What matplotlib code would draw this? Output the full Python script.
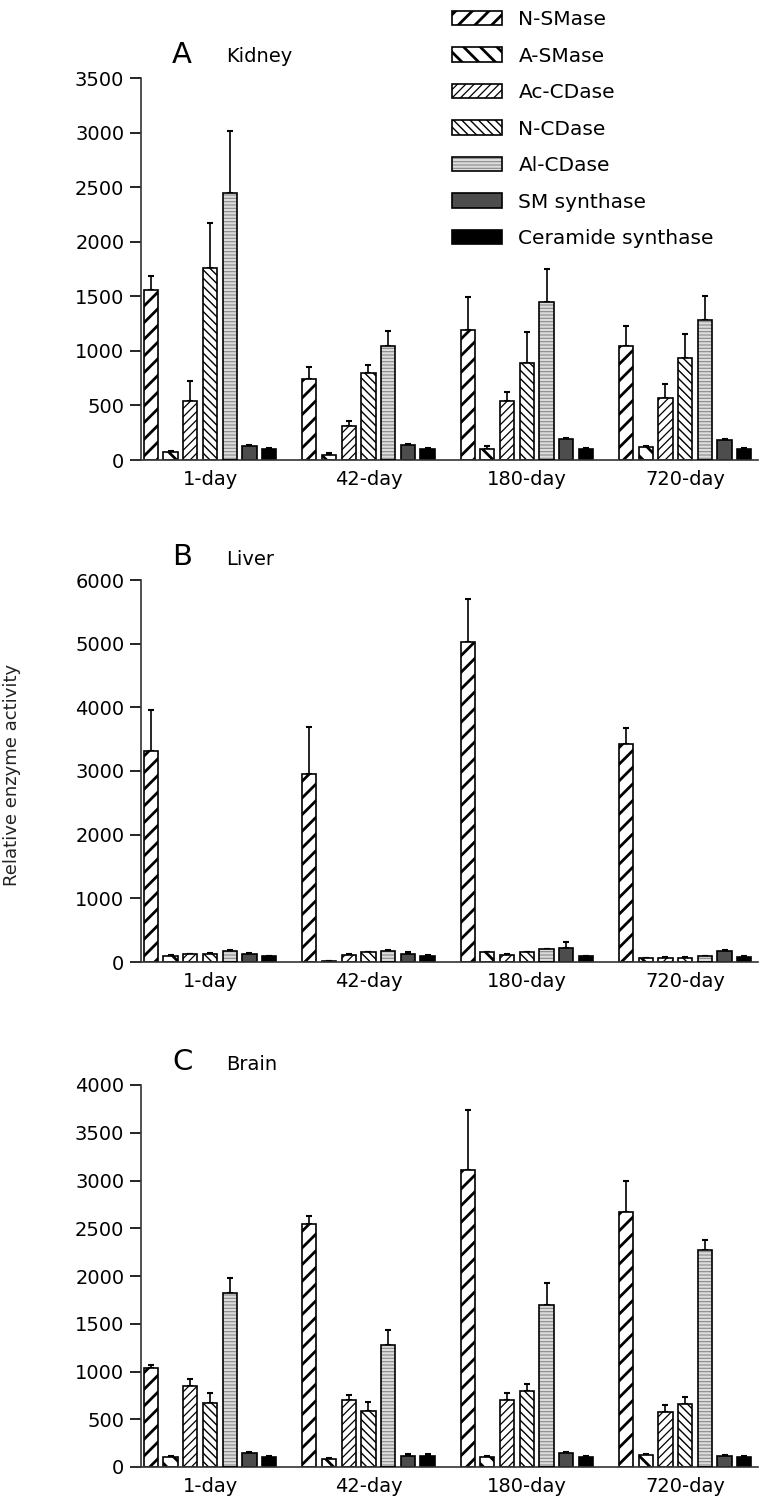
import numpy as np
import matplotlib
matplotlib.use('Agg')
import matplotlib.pyplot as plt

plt.rcParams['font.family'] = ['DejaVu Sans']
plt.rcParams['hatch.color'] = 'black'

# x categories
groups = ['1-day', '42-day', '180-day', '720-day']
enzymes = ['N-SMase', 'A-SMase', 'Ac-CDase', 'N-CDase', 'Al-CDase',
           'SM synthase', 'Ceramide synthase']

# Kidney (mean / upper error) per enzyme, order of groups
kidney_mean = [[1560, 740, 1190, 1040],
               [70, 50, 100, 120],
               [540, 310, 540, 570],
               [1760, 800, 890, 930],
               [2450, 1040, 1450, 1280],
               [130, 140, 190, 180],
               [100, 100, 100, 100]]
kidney_err = [[130, 110, 300, 190],
              [10, 10, 30, 10],
              [180, 50, 80, 130],
              [410, 70, 280, 220],
              [560, 140, 300, 220],
              [10, 10, 10, 10],
              [10, 10, 10, 10]]

# Liver
liver_mean = [[3320, 2960, 5020, 3420],
              [100, 10, 150, 60],
              [120, 110, 110, 70],
              [130, 150, 150, 70],
              [180, 180, 200, 90],
              [120, 130, 220, 170],
              [90, 100, 90, 80]]
liver_err = [[640, 730, 680, 260],
             [10, 0, 10, 10],
             [10, 10, 10, 10],
             [10, 10, 10, 10],
             [10, 10, 10, 10],
             [20, 20, 90, 20],
             [10, 10, 10, 10]]

# Brain
brain_mean = [[1040, 2540, 3110, 2670],
              [100, 80, 100, 130],
              [850, 700, 700, 580],
              [670, 590, 800, 660],
              [1820, 1280, 1700, 2270],
              [150, 110, 150, 120],
              [100, 110, 100, 100]]
brain_err = [[30, 90, 630, 330],
             [10, 10, 10, 10],
             [70, 50, 80, 70],
             [110, 90, 70, 70],
             [160, 150, 230, 110],
             [10, 30, 10, 10],
             [10, 30, 10, 10]]

panels = [('A', 'Kidney', kidney_mean, kidney_err, 3500, 500),
          ('B', 'Liver', liver_mean, liver_err, 6000, 1000),
          ('C', 'Brain', brain_mean, brain_err, 4000, 500)]

# bar styles: facecolor, hatch, hatch linewidth
styles = [('white', '//', 2.0),
          ('white', '\\\\', 2.0),
          ('white', '////', 0.9),
          ('white', '\\\\\\\\', 1.0),
          ('#dcdcdc', '-----', 0.8),
          ('#4d4d4d', None, 1.0),
          ('black', None, 1.0)]
hatch_lw = {s[1]: s[2] for s in styles if s[1]}

W, H = 766, 1504
fig = plt.figure(figsize=(W / 100, H / 100), dpi=100)

# axes tops / bottoms in pixels
ax_px = [(78, 460), (580, 962), (1085, 1467)]
left_px, right_px = 141, 758

step = 0.1245
width = 0.09
x = np.arange(len(groups))

handles = []
for k, (letter, organ, means, errs, ymax, ytick) in enumerate(panels):
    top, bot = ax_px[k]
    ax = fig.add_axes([left_px / W, 1 - bot / H, (right_px - left_px) / W, (bot - top) / H])
    for j in range(len(enzymes)):
        fc, hatch, hlw = styles[j]
        pos = x + (j - 3) * step
        if j == 4:
            bars = ax.bar(pos, means[j], width, color=fc, edgecolor='#8a8a8a',
                          hatch=hatch, linewidth=0, zorder=2)
            outline = ax.bar(pos, means[j], width, fill=False, edgecolor='black',
                             linewidth=1.2, zorder=3)
            h = (bars[0], outline[0])
        else:
            bars = ax.bar(pos, means[j], width, color=fc, edgecolor='black',
                          hatch=hatch, linewidth=1.2, zorder=2)
            h = bars[0]
        for p in bars:
            if hasattr(p, 'set_hatch_linewidth'):
                p.set_hatch_linewidth(hlw)
        ax.errorbar(pos, means[j], yerr=[np.zeros(len(groups)), errs[j]], fmt='none',
                    ecolor='black', elinewidth=1.2, capsize=2.5, capthick=1.5, zorder=1)
        if k == 0:
            handles.append(h)

    ax.set_xlim(-0.436, 3.46)
    ax.set_ylim(0, ymax)
    ax.set_yticks(np.arange(0, ymax + 1, ytick))
    ax.set_xticks(x)
    ax.set_xticklabels(groups, fontsize=14)
    ax.tick_params(axis='x', length=0, pad=7)
    ax.tick_params(axis='y', labelsize=14, length=8, width=1.2, direction='out', pad=4)
    for s in ['top', 'right']:
        ax.spines[s].set_visible(False)
    for s in ['left', 'bottom']:
        ax.spines[s].set_linewidth(1.2)
        ax.spines[s].set_color('#333333')
    ax.spines['bottom'].set_bounds(-0.5, 3.46)

    fig.text(172 / W, 1 - (top - 23) / H, letter, fontsize=21, va='center', ha='left')
    fig.text(226 / W, 1 - (top - 21) / H, organ, fontsize=14, va='center', ha='left')

fig.text(12 / W, 1 - 775 / H, 'Relative enzyme activity', rotation=90,
         fontsize=13, va='center', ha='center', color='#222222')

leg = fig.legend(handles, enzymes, loc='upper left', bbox_to_anchor=(452 / W, 1 - 10 / H),
                 frameon=False, fontsize=14.5, handlelength=2.5, handleheight=0.75,
                 labelspacing=0.87, handletextpad=0.8, borderpad=0, borderaxespad=0)
for p in leg.get_patches():
    hp = p.get_hatch()
    if hp in hatch_lw and hasattr(p, 'set_hatch_linewidth'):
        p.set_hatch_linewidth(hatch_lw[hp])

fig.savefig('out.png', dpi=100)
